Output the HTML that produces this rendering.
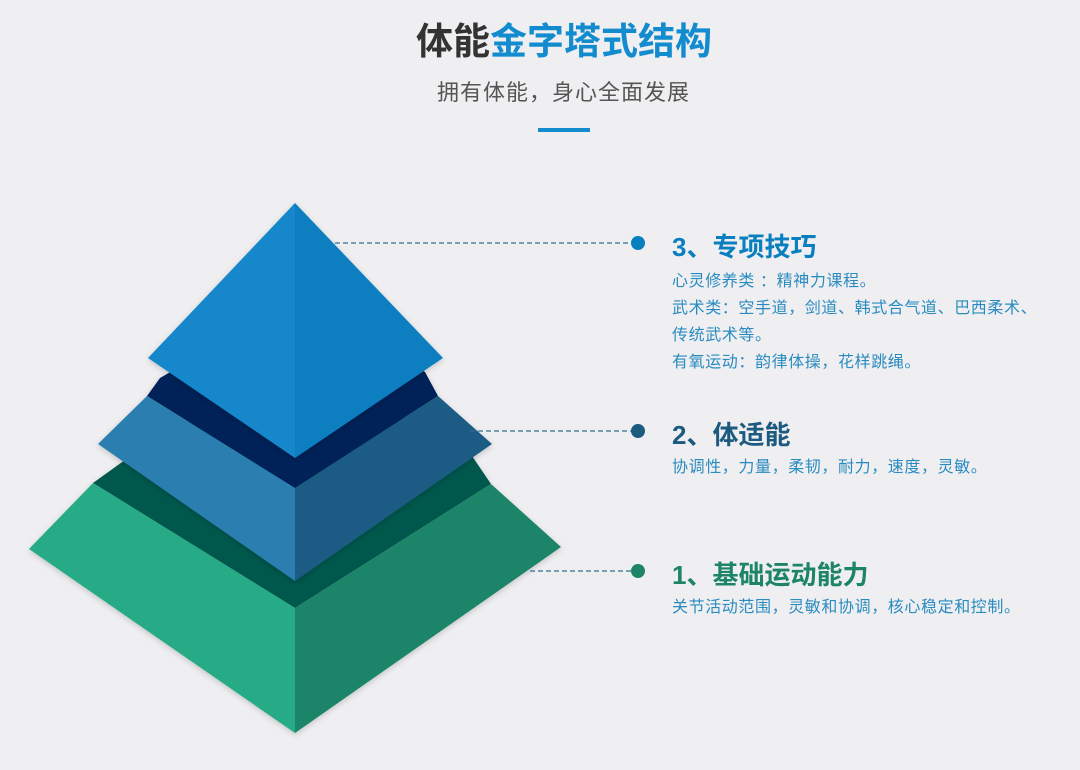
<!DOCTYPE html>
<html><head><meta charset="utf-8"><style>
html,body{margin:0;padding:0;width:1080px;height:770px;background:#efeff1;overflow:hidden;font-family:"Liberation Sans","Noto Sans CJK SC",sans-serif;}
.abs{position:absolute;white-space:nowrap;}
.h{font-size:26px;font-weight:bold;}
.b{font-size:16px;line-height:27px;letter-spacing:0.6px;}
</style></head><body>
<div class="abs" style="left:416px;top:18px;font-size:37px;font-weight:bold;line-height:48px;letter-spacing:0px;"><span style="color:#333">体能</span><span style="color:#128ccf">金字塔式结构</span></div>
<div class="abs" style="left:437px;top:78px;font-size:22px;color:#555;line-height:30px;letter-spacing:1px;">拥有体能，身心全面发展</div>
<div class="abs" style="left:538px;top:128px;width:52px;height:4px;background:#128ccf;"></div>
<svg class="abs" style="left:0;top:0" width="1080" height="770">
<defs><filter id="s" x="-10%" y="-10%" width="120%" height="120%"><feDropShadow dx="0" dy="2" stdDeviation="3" flood-opacity="0.18"/></filter></defs>
<g filter="url(#s)">
<polygon points="93,483 125,460 295,360 472,456 491,484 295,608" fill="#02584d"/>
<polygon points="93,483 29,549 295,733 295,608" fill="#25ab86"/>
<polygon points="295,608 491,484 561,547 295,733" fill="#1e8468"/>
</g>
<g filter="url(#s)">
<polygon points="147,396 160,378 295,300 425,372 438,396 295,488" fill="#002259"/>
<polygon points="147,396 98,444 295,581 295,488" fill="#2a7eb0"/>
<polygon points="295,488 438,396 492,444 295,581" fill="#1f5c84"/>
</g>
<g filter="url(#s)">
<polygon points="295,203 148,358 295,458" fill="#1287cb"/>
<polygon points="295,203 443,358 295,458" fill="#0a7fc0"/>
</g>
<g stroke-dasharray="5,3" stroke-width="1.3">
<line x1="335" y1="243" x2="632" y2="243" stroke="#2f6f94"/>
<line x1="470" y1="431" x2="632" y2="431" stroke="#2f6f94"/>
<line x1="530" y1="571" x2="632" y2="571" stroke="#2f6f94"/>
</g>
<circle cx="638" cy="243" r="7" fill="#0a7fc0"/>
<circle cx="638" cy="431" r="7" fill="#1c5a80"/>
<circle cx="638" cy="571" r="7" fill="#1e8468"/>
</svg>
<div class="abs h" style="left:672px;top:227px;color:#0a7fc0;">3、专项技巧</div>
<div class="abs b" style="left:672px;top:268px;color:#2a8bc0;">心灵修养类 ：精神力课程。<br>武术类：空手道，剑道、韩式合气道、巴西柔术、<br>传统武术等。<br>有氧运动：韵律体操，花样跳绳。</div>
<div class="abs h" style="left:672px;top:415px;color:#1c5a80;">2、体适能</div>
<div class="abs b" style="left:672px;top:454px;color:#2a8bc0;">协调性，力量，柔韧，耐力，速度，灵敏。</div>
<div class="abs h" style="left:672px;top:555px;color:#1e8468;">1、基础运动能力</div>
<div class="abs b" style="left:672px;top:594px;color:#2a8bc0;">关节活动范围，灵敏和协调，核心稳定和控制。</div>
</body></html>
